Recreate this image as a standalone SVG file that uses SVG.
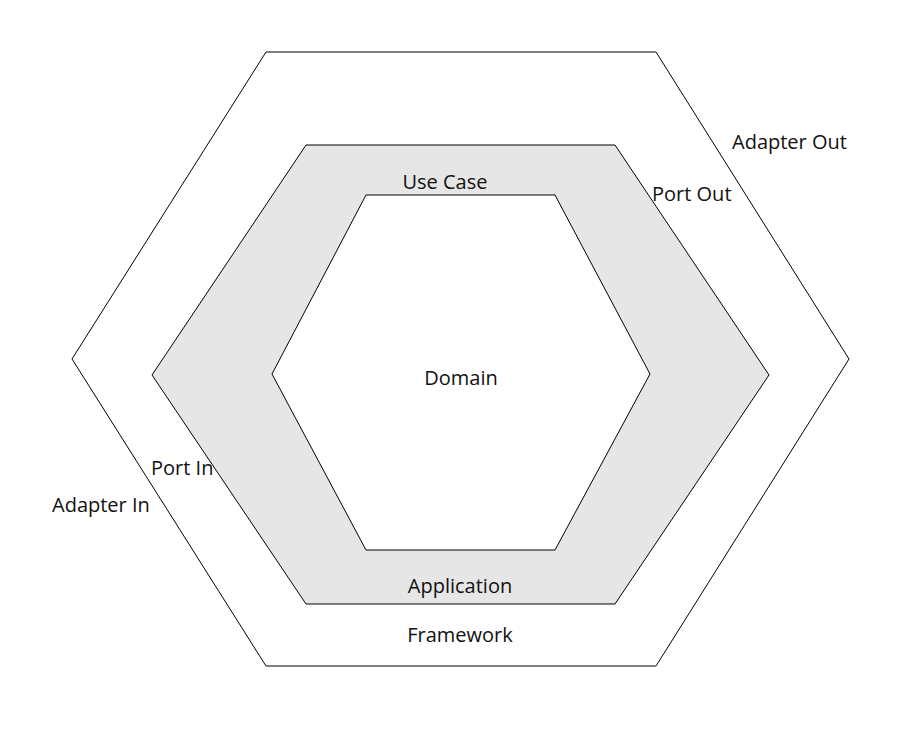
<svg xmlns="http://www.w3.org/2000/svg" width="911" height="749" viewBox="0 0 911 749">
<style>
.hex{stroke:#000;stroke-width:1}
text{font-family:"Open Sans","Noto Sans","Liberation Sans",sans-serif;font-size:20px;fill:#111}
.c{text-anchor:middle}
</style>
<rect width="911" height="749" fill="#fff"/>
<g id="framework">
<polygon class="hex" fill="#fff" points="266,52 656,52 849,359 656,666 266,666 72,359"/>
<text class="c" x="460" y="642">Framework</text>
</g>
<g id="application">
<polygon class="hex" fill="#e6e6e6" points="306,145 615,145 769,375 615,604 306,604 152,375"/>
<text class="c" x="460" y="593">Application</text>
</g>
<g id="domain">
<polygon class="hex" fill="#fff" points="366,195 555,195 650,374 555,550 366,550 272,374"/>
<text class="c" x="461" y="385">Domain</text>
</g>
<g id="labels">
<text class="c" x="445" y="189">Use Case</text>
<text x="732" y="149">Adapter Out</text>
<text x="652" y="201">Port Out</text>
<text x="151" y="475">Port In</text>
<text x="52" y="512">Adapter In</text>
</g>
<g id="connectors"></g>
</svg>
